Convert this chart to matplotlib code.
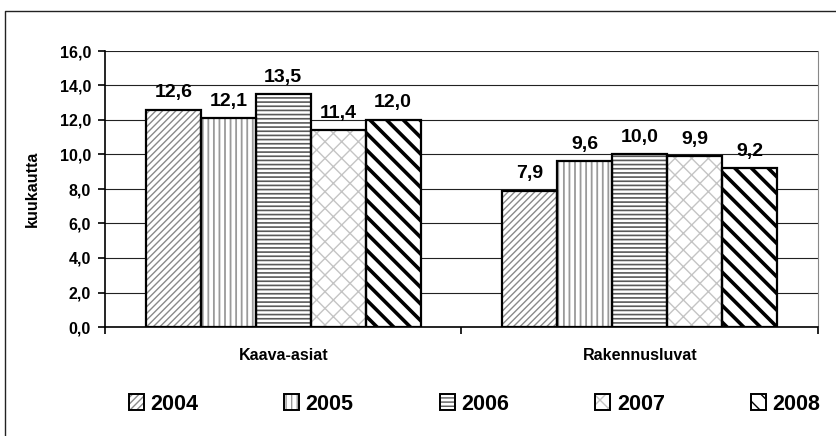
import numpy as np
import matplotlib
matplotlib.use("Agg")
import matplotlib.pyplot as plt
from matplotlib.patches import Patch
from matplotlib.lines import Line2D
from matplotlib.legend_handler import HandlerTuple
from matplotlib.ticker import FuncFormatter

plt.rcParams['font.family'] = ['Liberation Sans', 'DejaVu Sans']
plt.rcParams['font.weight'] = 'bold'

categories = ['Kaava-asiat', 'Rakennusluvat']
years = ['2004', '2005', '2006', '2007', '2008']
vals_2004 = [12.6, 7.9]
vals_2005 = [12.1, 9.6]
vals_2006 = [13.5, 10.0]
vals_2007 = [11.4, 9.9]
vals_2008 = [12.0, 9.2]
series = [vals_2004, vals_2005, vals_2006, vals_2007, vals_2008]

# hatch pattern, hatch colour, hatch line width for each year
hatches = ['/////', '|||', '----', 'xx', '\\\\']
hatch_colors = ['#8a8a8a', '#9a9a9a', '#5a5a5a', '#c4c4c4', '#000000']
hatch_widths = [1.0, 1.3, 1.2, 1.0, 2.6]

fig = plt.figure(figsize=(8.37, 4.36), dpi=100)
ax = fig.add_axes([105 / 837, 109 / 436, 713 / 837, 276 / 436])

x = np.arange(len(categories))
width = 0.154
handles = []
for i, (yr, vals) in enumerate(zip(years, series)):
    pos = x + (i - 2) * width
    with plt.rc_context({'hatch.linewidth': hatch_widths[i]}):
        ax.bar(pos, vals, width, color='white', edgecolor=hatch_colors[i],
               hatch=hatches[i], linewidth=0, zorder=2)
        hp = Patch(facecolor='white', edgecolor=hatch_colors[i], hatch=hatches[i], linewidth=0)
    ax.bar(pos, vals, width, fill=False, edgecolor='black', linewidth=1.6, zorder=3)
    ep = Patch(fill=False, edgecolor='black', linewidth=1.4)
    handles.append((hp, ep))
    for px, v in zip(pos, vals):
        ax.annotate(f"{v:.1f}".replace('.', ','), (px, v), xytext=(0, 9),
                    textcoords='offset points', ha='center', va='baseline',
                    fontsize=14, fontweight='bold')

ax.set_xlim(-0.5, 1.5)
ax.set_ylim(0, 16)
ax.set_yticks(np.arange(0, 17, 2))
ax.yaxis.set_major_formatter(FuncFormatter(lambda v, p: f"{v:.1f}".replace('.', ',')))
ax.grid(axis='y', color='#222222', linewidth=0.8, zorder=0)
ax.set_axisbelow(True)

ax.set_xticks([-0.5, 0.5, 1.5])
ax.set_xticklabels([])
ax.set_xticks(x, minor=True)
ax.set_xticklabels(categories, minor=True, fontsize=11.5, fontweight='bold')
ax.tick_params(axis='x', which='minor', length=0, pad=15)
ax.tick_params(axis='x', which='major', length=5, width=1.2, direction='out')
ax.tick_params(axis='y', length=5, width=1.2, direction='out', labelsize=11.5, pad=5)

ax.spines['left'].set_linewidth(1.2)
ax.spines['bottom'].set_linewidth(1.2)
ax.spines['right'].set_color('#888888')
ax.spines['top'].set_visible(False)

ax.set_ylabel('kuukautta', fontsize=11.5, fontweight='bold', labelpad=14)

fig.legend(handles, years, handler_map={tuple: HandlerTuple(ndivide=1)},
           loc='center', bbox_to_anchor=(474.5 / 837, 1 - 404 / 436), ncol=5,
           frameon=False, handlelength=0.7, handleheight=0.7,
           handletextpad=0.3, columnspacing=4.0, prop={'weight': 'bold', 'size': 15.5})

# outer chart border (top and left only visible)
fig.add_artist(Line2D([5 / 837, 5 / 837, 1.0], [0.0, 1 - 11 / 436, 1 - 11 / 436],
                      transform=fig.transFigure, color='#222222', linewidth=1.0))

fig.savefig('out.png', dpi=100)
